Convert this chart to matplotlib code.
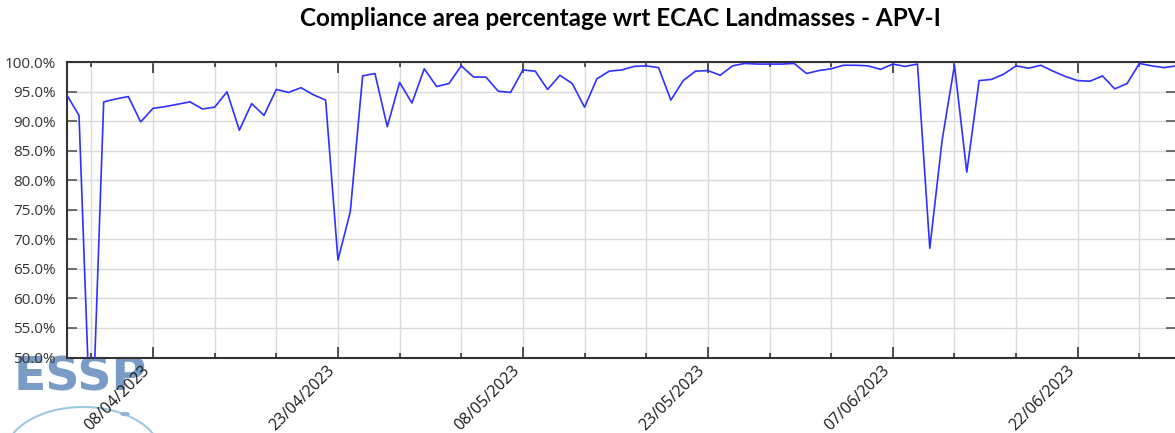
import numpy as np
import pandas as pd
import matplotlib
matplotlib.use("Agg")
import matplotlib.pyplot as plt
import matplotlib.dates as mdates
from matplotlib.ticker import FixedLocator, FuncFormatter
from matplotlib.lines import Line2D
from matplotlib.patches import Circle

# ---- data ----
title = "Compliance area percentage wrt ECAC Landmasses - APV-I"
start_date = "2023-04-01"
compliance_pct = [
    94.5, 91.0, 33.0, 93.3, 93.8, 94.2, 89.9, 92.2, 92.5, 92.9,
    93.3, 92.1, 92.4, 95.0, 88.5, 93.0, 91.0, 95.4, 94.9, 95.7,
    94.5, 93.6, 66.5, 74.7, 97.7, 98.1, 89.1, 96.6, 93.1, 98.9,
    95.9, 96.4, 99.4, 97.5, 97.5, 95.1, 94.9, 98.7, 98.5, 95.4,
    97.8, 96.4, 92.4, 97.2, 98.5, 98.7, 99.3, 99.4, 99.1, 93.6,
    96.9, 98.5, 98.6, 97.8, 99.4, 99.8, 99.7, 99.7, 99.7, 99.8,
    98.1, 98.6, 98.9, 99.5, 99.5, 99.4, 98.8, 99.7, 99.3, 99.7,
    68.5, 86.8, 99.5, 81.4, 96.9, 97.1, 98.0, 99.4, 99.0, 99.5,
    98.5, 97.6, 96.9, 96.8, 97.7, 95.5, 96.4, 99.8, 99.4, 99.1,
    99.4,
]
major_tick_dates = ["2023-04-08", "2023-04-23", "2023-05-08", "2023-05-23",
                    "2023-06-07", "2023-06-22"]
minor_tick_dates = ["2023-04-03", "2023-04-13", "2023-04-18", "2023-04-28",
                    "2023-05-03", "2023-05-13", "2023-05-18", "2023-05-28",
                    "2023-06-02", "2023-06-12", "2023-06-17", "2023-06-27"]
y_ticks = [50, 55, 60, 65, 70, 75, 80, 85, 90, 95, 100]

dates = pd.date_range(start_date, periods=len(compliance_pct), freq="D")

plt.rcParams['font.family'] = ['Open Sans', 'DejaVu Sans']

W, H = 1175, 433
fig = plt.figure(figsize=(W / 100, H / 100), dpi=100)
ax = fig.add_axes([66.7 / W, 1 - 357.5 / H, (1176.4 - 66.7) / W, (357.5 - 62.3) / H])

ax.plot(dates, compliance_pct, color="#3030ff", lw=1.2, zorder=3)

ax.set_xlim(dates[0], dates[-1])
ax.set_ylim(50, 100)

maj = [mdates.date2num(pd.Timestamp(d)) for d in major_tick_dates]
mnr = [mdates.date2num(pd.Timestamp(d)) for d in minor_tick_dates]
ax.xaxis.set_major_locator(FixedLocator(maj))
ax.xaxis.set_minor_locator(FixedLocator(mnr))
ax.xaxis.set_major_formatter(mdates.DateFormatter("%d/%m/%Y"))
ax.set_yticks(y_ticks)
ax.yaxis.set_major_formatter(FuncFormatter(lambda v, p: f"{v:.1f}%"))

ax.grid(True, which="both", axis="x", color="#d9d9d9", lw=1.0, zorder=0)
ax.grid(True, which="major", axis="y", color="#d9d9d9", lw=1.0, zorder=0)
ax.set_axisbelow(True)

ax.tick_params(axis="x", which="major", direction="in", length=8, width=1.2,
               top=True, bottom=True, color="#333333", labelsize=11.5,
               labelcolor="#1a1a1a", pad=4)
ax.tick_params(axis="x", which="minor", direction="in", length=3.5, width=1.2,
               top=True, bottom=True, color="#333333")
ax.tick_params(axis="y", which="major", direction="in", length=7, width=1.2,
               left=True, right=True, color="#555555", labelsize=11,
               labelcolor="#333333", pad=8)
for lbl in ax.get_xticklabels():
    lbl.set_rotation(45)
    lbl.set_ha("right")
    lbl.set_va("top")

for s in ["left", "bottom", "top"]:
    ax.spines[s].set_color("#333333")
    ax.spines[s].set_linewidth(1.5)
ax.spines["right"].set_visible(False)

fig.text(620 / W, 1 - 19 / H, title, ha="center", va="center",
         fontsize=17.5, fontweight="bold", family=["Lato", "DejaVu Sans"],
         color="black")

# ESSP logo (decorative)
fig.text(14 / W, 1 - 378 / H, "ESSP", ha="left", va="center", fontsize=34,
         fontweight="bold", family=["DejaVu Sans"], color="#7a9cc4", zorder=-1)
t = np.linspace(np.pi * 0.05, np.pi * 0.95, 60)
cx, cy, rx, ry = 83, 455, 78, 48
xs = (cx + rx * np.cos(t)) / W
ys = 1 - (cy - ry * np.sin(t)) / H
fig.add_artist(Line2D(xs, ys, transform=fig.transFigure, color="#9cc8e0",
                      lw=1.5, zorder=-1))
fig.add_artist(Circle((125 / W, 1 - 414 / H), 4 / W, transform=fig.transFigure,
                      color="#8fb3d9", zorder=-1))

fig.savefig("out.png", dpi=100)
